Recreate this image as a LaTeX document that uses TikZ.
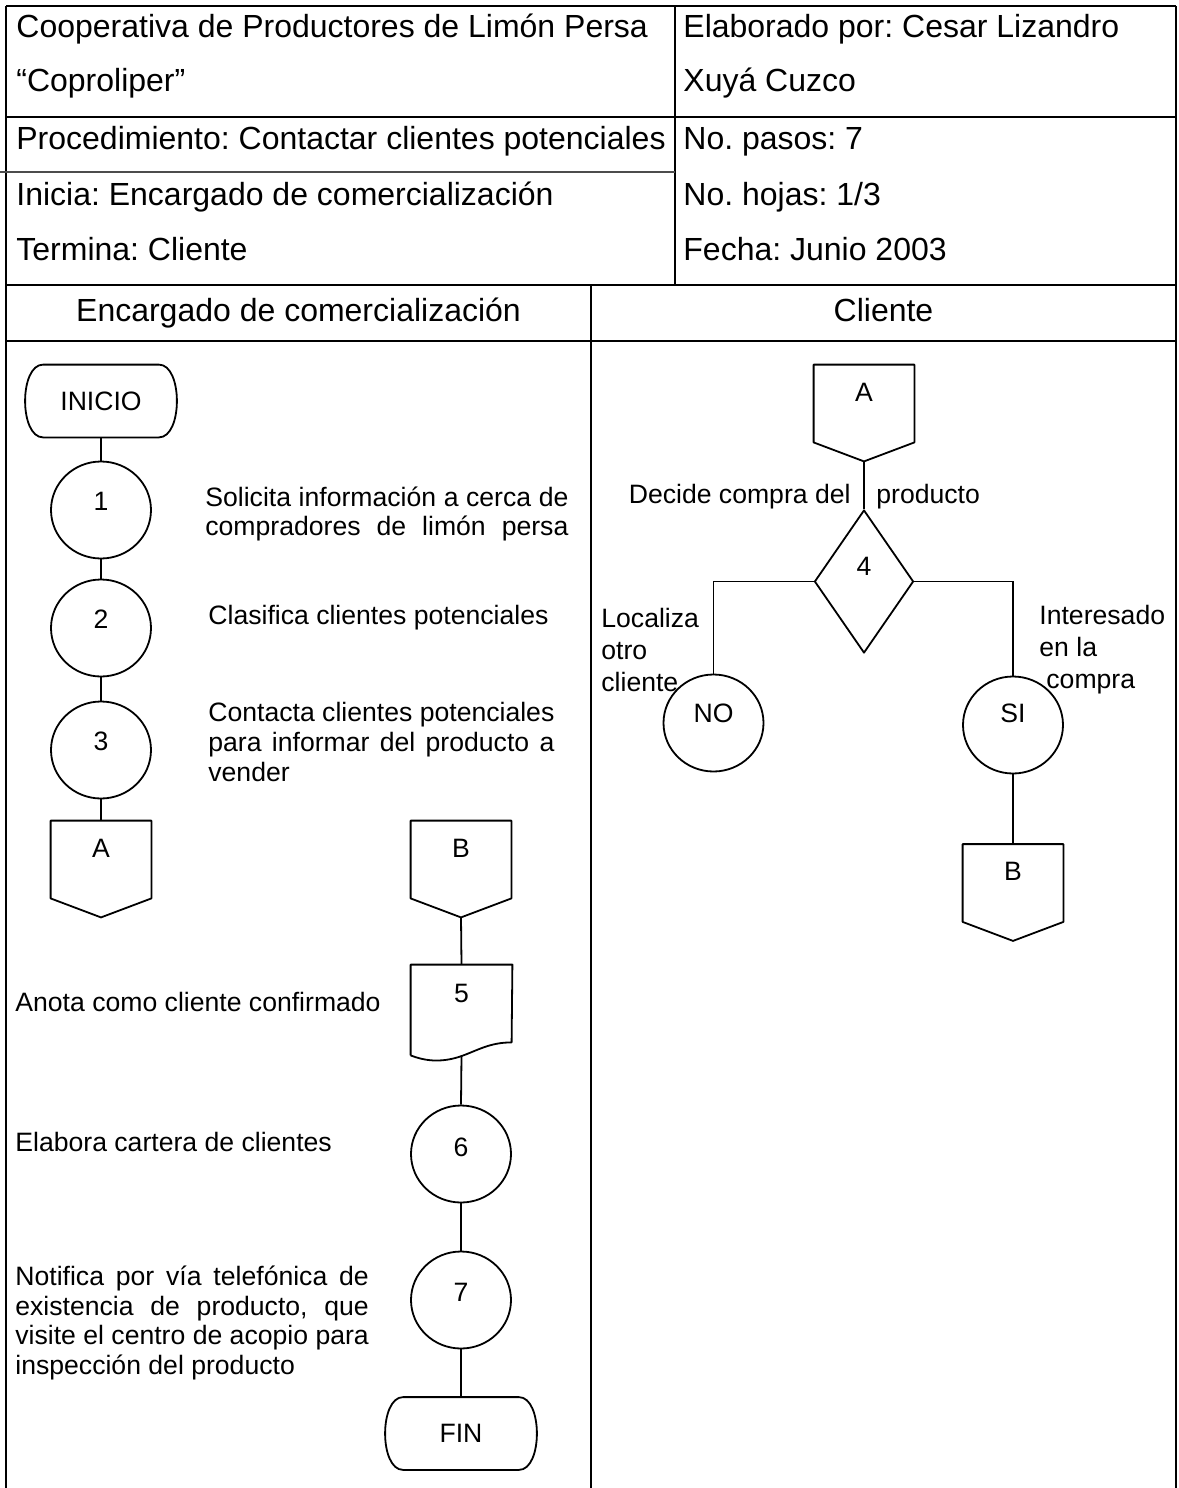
\documentclass[tikz,border=0pt]{standalone}
\usepackage{fontspec}
\setmainfont{Liberation Sans}
\usetikzlibrary{shapes.geometric,calc}
\newcommand\hdfont{\fontsize{16}{19}\selectfont}
\newcommand\bdfont{\fontsize{13.3}{14.8}\selectfont}
\newcommand\bdfontb{\fontsize{13.3}{16}\selectfont}
\newcommand\offpageoutline[1]{\draw[shp] (#1.north west) -- (#1.north east) -- ([yshift=9.5pt]#1.south east) -- (#1.south) -- ([yshift=9.5pt]#1.south west) -- cycle;}
\newcommand\termoutline[1]{\draw[shp] ([xshift=9pt]#1.north west) -- ([xshift=-9pt]#1.north east) .. controls ([xshift=3pt]#1.north east) and ([xshift=3pt]#1.south east) .. ([xshift=-9pt]#1.south east) -- ([xshift=9pt]#1.south west) .. controls ([xshift=-3pt]#1.south west) and ([xshift=-3pt]#1.north west) .. ([xshift=9pt]#1.north west) -- cycle;}
\newcommand\docoutline[1]{\draw[shp] (#1.south west) -- (#1.north west) -- (#1.north east) -- ([shift={(101,-13)}]#1.south west) .. controls ([shift={(79,-13)}]#1.south west) and ([shift={(67,-5)}]#1.south west) .. ([shift={(50,1)}]#1.south west) .. controls ([shift={(29,8)}]#1.south west) and ([shift={(13,5)}]#1.south west) .. (#1.south west);}
\begin{document}
\frenchspacing
\begin{tikzpicture}[x=0.5pt,y=-0.5pt,
  grid/.style={line width=1.2pt},
  thin grid/.style={line width=0.9pt,black!70},
  shp/.style={line width=0.9pt,line join=round},
  conn/.style={line width=0.9pt},
  hd/.style={font=\hdfont,inner sep=0pt,anchor=base west},
  lane/.style={font=\hdfont,inner sep=0pt,anchor=base},
  bd/.style={font=\bdfont,inner sep=0pt},
  circ/.style={ellipse,draw,shp,minimum width=50pt,minimum height=48.5pt,inner sep=0pt},
  ghost/.style={rectangle,draw=none,inner sep=0pt},
  term/.style={ghost,minimum width=75.5pt,minimum height=36pt,font=\bdfont},
  opg/.style={ghost,minimum width=50pt,minimum height=48pt},
  docn/.style={ghost,minimum width=50.5pt,minimum height=45pt},
  dia/.style={diamond,draw,shp,minimum width=49.5pt,minimum height=71.5pt,inner sep=0pt}
]
\useasboundingbox (0,0) rectangle (1178,1488);
% table
\draw[grid] (6,6) -- (1176,6);
\draw[grid] (6,6) -- (6,1488);
\draw[grid] (1176,6) -- (1176,1488);
\draw[grid] (675,6) -- (675,285);
\draw[grid] (6,117) -- (1176,117);
\draw[thin grid] (0,172) -- (675,172);
\draw[grid] (6,285) -- (1176,285);
\draw[grid] (6,341) -- (1176,341);
\draw[grid] (591,285) -- (591,1488);
% header
\node[hd] (h1) at (16,37) {Cooperativa de Productores de Limón Persa};
\node[hd] (h2) at (16,91) {“Coproliper”};
\node[hd] (h3) at (16,149) {Procedimiento: Contactar clientes potenciales};
\node[hd] (h4) at (16,205) {Inicia: Encargado de comercialización};
\node[hd] (h5) at (16,260) {Termina: Cliente};
\node[hd] (h6) at (683,37) {Elaborado por: Cesar Lizandro};
\node[hd] (h7) at (683,91) {Xuyá Cuzco};
\node[hd] (h8) at (683,149) {No. pasos: 7};
\node[hd] (h9) at (683,205) {No. hojas: 1/3};
\node[hd] (h10) at (683,260) {Fecha: Junio 2003};
\node[lane] (l1) at (298.5,321) {Encargado de comercialización};
\node[lane] (l2) at (883.5,321) {Cliente};
% left lane, first column
\node[term] (ini) at (101,401) {INICIO};
\termoutline{ini}
\node[circ] (c1) at (101,510) {};
\node[bd] (c1t) at ([yshift=4.5pt]c1.center) {1};
\node[circ] (c2) at (101,628) {};
\node[bd] (c2t) at ([yshift=4.5pt]c2.center) {2};
\node[circ] (c3) at (101,750) {};
\node[bd] (c3t) at ([yshift=4.5pt]c3.center) {3};
\node[opg] (A1) at (101,869) {};
\offpageoutline{A1}
\node[bd] (A1t) at ([yshift=10.5pt]A1.center) {A};
\node[bd,anchor=west,align=left] (s1) at (205,514) {\makebox[181.5pt][s]{Solicita información a cerca de}\\\makebox[181.5pt][s]{compradores de limón persa}};
\node[bd,anchor=west] (s2) at (208,618) {Clasifica clientes potenciales};
\node[bd,anchor=west,align=left] (s3) at (208,742) {Contacta clientes potenciales\\\makebox[173pt][s]{para informar del producto a}\\vender};
% left lane, second column
\node[opg] (B1) at (461,869) {};
\offpageoutline{B1}
\node[bd] (B1t) at ([yshift=10.5pt]B1.center) {B};
\node[docn] (d5) at (461.5,1010) {};
\docoutline{d5}
\node[bd] (d5t) at ([yshift=8.5pt]d5.center) {5};
\node[bd,anchor=west] (s5) at (15,1002) {Anota como cliente confirmado};
\node[circ] (c6) at (461,1154) {};
\node[bd] (c6t) at ([yshift=3.5pt]c6.center) {6};
\node[bd,anchor=west] (s6) at (15,1142) {Elabora cartera de clientes};
\node[circ] (c7) at (461,1300) {};
\node[bd] (c7t) at ([yshift=4pt]c7.center) {7};
\node[bd,anchor=west,align=left] (s7) at (15,1323) {\makebox[176.7pt][s]{Notifica por vía telefónica de}\\\makebox[176.7pt][s]{existencia de producto, que}\\visite el centro de acopio para\\inspección del producto};
\node[term] (fin) at (461,1433.5) {FIN};
\termoutline{fin}
% right lane
\node[opg] (A2) at (864,413) {};
\offpageoutline{A2}
\node[bd] (A2t) at ([yshift=10.5pt]A2.center) {A};
\node[dia] (d4) at (864,581.5) {};
\node[bd] (d4t) at ([yshift=7.5pt]d4.center) {4};
\node[bd,anchor=east] (q1) at (851,497) {Decide compra del};
\node[bd,anchor=west] (q2) at (876,497) {producto};
\node[circ] (no) at (713.5,723) {};
\node[bd] (not) at ([yshift=5pt]no.center) {NO};
\node[circ] (si) at (1013,725) {};
\node[bd] (sit) at ([yshift=6pt]si.center) {SI};
\node[bd,anchor=west,align=left,font=\bdfontb] (lno) at (601,650) {Localiza\\otro\\cliente};
\node[bd,anchor=west,align=left,font=\bdfontb] (lsi) at (1039,650) {Interesado\\en la\\\hspace*{3.5pt}compra};
\node[opg] (B2) at (1013,892.5) {};
\offpageoutline{B2}
\node[bd] (B2t) at ([yshift=10.5pt]B2.center) {B};
% connectors
\draw[conn] (ini.south) -- (c1.north);
\draw[conn] (c1.south) -- (c2.north);
\draw[conn] (c2.south) -- (c3.north);
\draw[conn] (c3.south) -- (A1.north);
\draw[conn] (B1.south) -- (d5.north);
\draw[conn] (d5.south) -- (c6.north);
\draw[conn] (c6.south) -- (c7.north);
\draw[conn] (c7.south) -- (fin.north);
\draw[conn] (A2.south) -- (d4.north);
\draw[conn] (d4.west) -| (no.north);
\draw[conn] (d4.east) -| (si.north);
\draw[conn] (si.south) -- (B2.north);
\end{tikzpicture}
\end{document}
